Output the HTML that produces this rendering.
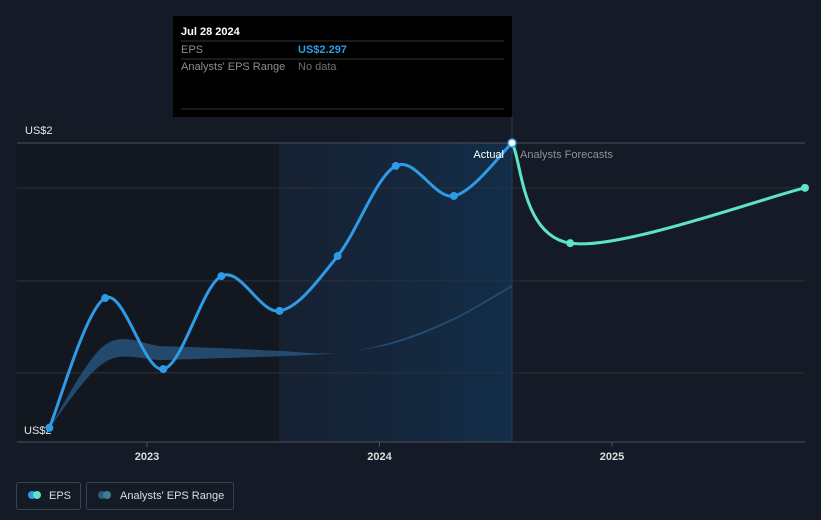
<!DOCTYPE html>
<html><head><meta charset="utf-8"><style>
body{margin:0;background:#151b26;font-family:"Liberation Sans",sans-serif;}
svg{display:block}
</style></head><body>
<svg width="821" height="520">
<defs>
<linearGradient id="hl" x1="0" x2="1" y1="0" y2="0"><stop offset="0" stop-color="#17253a" stop-opacity="0.6"/><stop offset="1" stop-color="#12304d" stop-opacity="0.9"/></linearGradient>
</defs>
<rect x="0" y="0" width="821" height="520" fill="#151b26"/>
<rect x="17" y="143" width="262" height="299" fill="#131820"/>
<rect x="279" y="143" width="233" height="299" fill="url(#hl)"/>
<line x1="512" y1="117" x2="512" y2="442" stroke="#2a3f55" stroke-width="1"/>
<g id="grid"></g>
<line x1="17" y1="442" x2="805" y2="442" stroke="#4a525c"/>
<text x="25" y="134" fill="#e6e6e6" font-size="11">US$2</text>
<text x="24" y="434" fill="#e6e6e6" font-size="11">US$2</text>
<g id="xt"></g>
<path id="band" fill="#2a5a85" fill-opacity="0.75"/>
<path id="epsLine" fill="none" stroke="#2e9be6" stroke-width="3"/>
<path id="fcLine" fill="none" stroke="#5fe3c8" stroke-width="3"/>
<g id="pts"></g>
<text x="504" y="158" fill="#ffffff" font-size="11" text-anchor="end">Actual</text>
<text x="520" y="158" fill="#8a9099" font-size="11">Analysts Forecasts</text>
<g>
<rect x="173" y="16" width="339" height="101" fill="#000"/>
<text x="181" y="35" fill="#fff" font-size="11" font-weight="bold">Jul 28 2024</text>
<line x1="181" y1="41" x2="504" y2="41" stroke="#333"/>
<text x="181" y="53" fill="#8a8f96" font-size="11">EPS</text>
<text x="298" y="53" fill="#2e9be6" font-size="11" font-weight="bold">US$2.297</text>
<line x1="181" y1="59" x2="504" y2="59" stroke="#333"/>
<text x="181" y="70" fill="#8a8f96" font-size="11">Analysts' EPS Range</text>
<text x="298" y="70" fill="#6b7078" font-size="11">No data</text>
<line x1="181" y1="109" x2="504" y2="109" stroke="#333"/>
</g>
<g>
<rect x="16.5" y="482.5" width="64" height="27" rx="2" fill="none" stroke="#3a414c"/>
<circle cx="32" cy="495" r="4" fill="#2e9be6"/><circle cx="37" cy="495" r="4" fill="#5fe3c8"/>
<text x="49" y="499" fill="#ddd" font-size="11">EPS</text>
</g>
<g>
<rect x="86.5" y="482.5" width="147" height="27" rx="2" fill="none" stroke="#3a414c"/>
<circle cx="102" cy="495" r="4" fill="#2a5a85"/><circle cx="107" cy="495" r="4" fill="#3f7f8a"/>
<text x="120" y="499" fill="#ddd" font-size="11">Analysts' EPS Range</text>
</g>
</svg>
<script>
const dates=[2022.58,2022.82,2023.07,2023.32,2023.57,2023.82,2024.07,2024.32,2024.57];
const eps=[1.700,1.972,1.823,2.018,1.945,2.060,2.249,2.186,2.297];
const fcDates=[2024.57,2024.82,2025.83];
const fcEps=[2.297,2.087,2.203];
const rangeDates=[2022.58,2022.82,2023.07,2023.32,2023.57,2023.82,2024.07,2024.32,2024.57];
const rangeHigh=[1.700,1.874,1.871,1.867,1.861,1.857,1.882,1.930,1.999];
const rangeLow=[1.700,1.838,1.842,1.846,1.850,1.857,1.878,1.926,1.995];
const xTicks=[2023,2024,2025];
const gridVals=[2.297,2.203,2.008,1.815];
const X=t=>147+(t-2023)*232.5;
const Y=v=>143+(2.297-v)*477;
const NS='http://www.w3.org/2000/svg';
function spline(px){let d='M'+px[0][0]+','+px[0][1];for(let i=0;i<px.length-1;i++){const p0=px[i-1]||px[i],p1=px[i],p2=px[i+1],p3=px[i+2]||p2;
d+=' C'+(p1[0]+(p2[0]-p0[0])/6)+','+(p1[1]+(p2[1]-p0[1])/6)+' '+(p2[0]-(p3[0]-p1[0])/6)+','+(p2[1]-(p3[1]-p1[1])/6)+' '+p2[0]+','+p2[1];}return d;}
const ep=dates.map((d,i)=>[X(d),Y(eps[i])]);
document.getElementById('epsLine').setAttribute('d',spline(ep));
const fp=fcDates.map((d,i)=>[X(d),Y(fcEps[i])]);
document.getElementById('fcLine').setAttribute('d',spline(fp));
const hi=rangeDates.map((d,i)=>[X(d),Y(rangeHigh[i])]);
const lo=rangeDates.map((d,i)=>[X(d),Y(rangeLow[i])]).reverse();
document.getElementById('band').setAttribute('d',spline(hi)+' L'+spline(lo).slice(1)+' Z');
const g=document.getElementById('grid');
gridVals.forEach(v=>{const l=document.createElementNS(NS,'line');
l.setAttribute('x1',17);l.setAttribute('x2',805);l.setAttribute('y1',Y(v));l.setAttribute('y2',Y(v));
l.setAttribute('stroke',v===2.297?'#4a525c':'#2a313b');


g.appendChild(l);});
const xt=document.getElementById('xt');
xTicks.forEach(t=>{const l=document.createElementNS(NS,'line');
l.setAttribute('x1',X(t));l.setAttribute('x2',X(t));l.setAttribute('y1',442);l.setAttribute('y2',447);l.setAttribute('stroke','#4a525c');


xt.appendChild(l);
const tx=document.createElementNS(NS,'text');tx.setAttribute('x',X(t));tx.setAttribute('y',460);tx.setAttribute('text-anchor','middle');
tx.setAttribute('fill','#ddd');tx.setAttribute('font-size','11');tx.setAttribute('font-weight','bold');tx.textContent=t;


xt.appendChild(tx);});
const pts=document.getElementById('pts');
ep.forEach((p,i)=>{const c=document.createElementNS(NS,'circle');c.setAttribute('cx',p[0]);c.setAttribute('cy',p[1]);c.setAttribute('r',4);
const last=i===ep.length-1;c.setAttribute('fill',last?'#fff':'#2e9be6');if(last){c.setAttribute('stroke','#2e9be6');c.setAttribute('stroke-width','1.5');}


pts.appendChild(c);});
fp.slice(1).forEach(p=>{const c=document.createElementNS(NS,'circle');c.setAttribute('cx',p[0]);c.setAttribute('cy',p[1]);c.setAttribute('r',4);c.setAttribute('fill','#5fe3c8');


pts.appendChild(c);});
</script>
</body></html>
